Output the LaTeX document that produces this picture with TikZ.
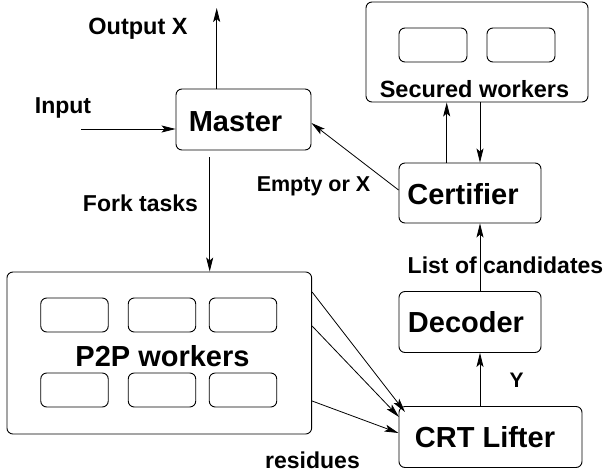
\documentclass[tikz,border=0pt]{standalone}
\usepackage{fontspec}
\setmainfont{Liberation Sans}
\usetikzlibrary{arrows.meta,calc}
\begin{document}
\begin{tikzpicture}[x=1pt,y=-1pt,
  box/.style={draw,rounded corners=6pt,line width=0.9pt,inner sep=0pt},
  big/.style={font=\bfseries\fontsize{29}{34}\selectfont,inner sep=0pt,anchor=base},
  small/.style={font=\bfseries\fontsize{23}{27}\selectfont,inner sep=0pt,anchor=base},
  conn/.style={-{Stealth[length=14pt,width=7pt,inset=3pt]},line width=0.8pt}]
\useasboundingbox (0,0) rectangle (608,472);
% boxes
\node[box,minimum width=135pt,minimum height=61pt] (master) at (243.5,119.5) {};
\node[box,minimum width=222pt,minimum height=100pt] (sec) at (477,52) {};
\node[box,minimum width=68pt,minimum height=34pt] (s1) at (433,45) {};
\node[box,minimum width=68pt,minimum height=34pt] (s2) at (521,45) {};
\node[box,minimum width=142pt,minimum height=60pt] (cert) at (470,193) {};
\node[box,minimum width=142pt,minimum height=61pt] (dec) at (470,322) {};
\node[box,minimum width=183pt,minimum height=61pt] (crt) at (490.5,437) {};
\node[box,minimum width=304.7pt,minimum height=162pt] (p2p) at (159.3,353) {};
\foreach \c/\x in {a/74.5,b/162,c/243}{
  \node[box,minimum width=67.5pt,minimum height=34pt] (p\c1) at (\x,315) {};
  \node[box,minimum width=67.5pt,minimum height=34pt] (p\c2) at (\x,390) {};
}
% box texts
\node[big] (tmaster) at (235.5,131.5) {Master};
\node[big] (tcert) at (463,204) {Certifier};
\node[big] (tdec) at (466,332) {Decoder};
\node[big] (tp2p) at (162.5,366) {P2P workers};
\node[big] (tcrt) at (485,447.5) {CRT Lifter};
\node[small,font=\bfseries\fontsize{23.5}{27}\selectfont] (tsec) at (474.5,97) {Secured workers};
% labels
\node[small,font=\bfseries\fontsize{23.5}{27}\selectfont] (lout) at (138,34) {Output X};
\node[small] (lin) at (63,113) {Input};
\node[small] (lfork) at (140.5,211.5) {Fork tasks};
\node[small,font=\bfseries\fontsize{21.5}{26}\selectfont] (lempty) at (313.5,191.5) {Empty or X};
\node[small] (llist) at (505.5,273) {List of candidates};
\node[small,font=\bfseries\fontsize{21}{26}\selectfont] (ly) at (516.5,387) {Y};
\node[small] (lres) at (312.5,468) {residues};
% coordinates
\coordinate (outE) at (216.7,8);
\coordinate (inS) at (81,129);
\coordinate (forkS) at (209.7,157);
\coordinate (cmS) at (0,190);
\coordinate (cmE) at (0,123);
\coordinate (su) at (446.7,0);
\coordinate (sd) at (480,0);
\coordinate (a1) at (0,292);
\coordinate (a2) at (0,326);
\coordinate (a3) at (0,401);
\coordinate (t1) at (405,412);
\coordinate (t2) at (399,417);
\coordinate (t3) at (398.5,433);
% connectors
\draw[conn] (outE |- master.north) -- (outE);
\draw[conn] (inS) -- (inS -| master.west);
\draw[conn] (forkS) -- (forkS |- p2p.north);
\draw[conn] (cmS -| cert.west) -- (cmE -| master.east);
\draw[conn] (su |- cert.north) -- (su |- sec.south);
\draw[conn] (sd |- sec.south) -- (sd |- cert.north);
\draw[conn] (sd |- dec.north) -- (sd |- cert.south);
\draw[conn] (sd |- crt.north) -- (sd |- dec.south);
\draw[conn] (a1 -| p2p.east) -- (t1);
\draw[conn] (a2 -| p2p.east) -- (t2);
\draw[conn] (a3 -| p2p.east) -- (t3);
\end{tikzpicture}
\end{document}
